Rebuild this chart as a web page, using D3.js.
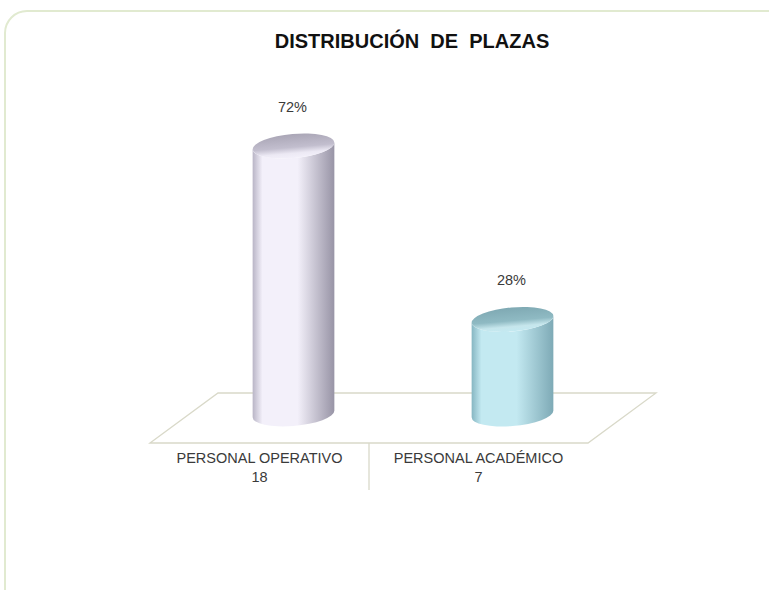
<!DOCTYPE html>
<html>
<head>
<meta charset="utf-8">
<script src="https://cdn.jsdelivr.net/npm/d3@7"></script>
<style>
  html, body { margin: 0; padding: 0; background: #fff; }
  text { font-family: Arial, "Liberation Sans", sans-serif; fill: #3a3a3a; }
</style>
</head>
<body>
<div id="chart"></div>
<script>
// data
var categories = ["PERSONAL OPERATIVO", "PERSONAL ACADÉMICO"];
var values = [18, 7];
var title = "DISTRIBUCIÓN  DE  PLAZAS";

var svgWidth = 769;
var svgHeight = 590;

var svg = d3.select("#chart")
  .append("svg")
  .attr("width", svgWidth)
  .attr("height", svgHeight);

// outer frame
svg.append("rect")
  .attr("x", 5).attr("y", 11)
  .attr("width", 800).attr("height", 620)
  .attr("rx", 22)
  .attr("fill", "none")
  .attr("stroke", "#e1ead0")
  .attr("stroke-width", 2);

svg.append("text")
  .attr("x", 412).attr("y", 48)
  .attr("text-anchor", "middle")
  .style("font-size", "20px")
  .style("font-weight", "bold")
  .style("white-space", "pre")
  .style("fill", "#111")
  .text(title);

// floor geometry (front edge + depth shift)
var floorFront = 443, floorBack = 393, depth = 68;
var x = d3.scaleBand()
  .domain(categories)
  .range([150, 588]);

var y = d3.scaleLinear()
  .domain([1, 18])
  .range([414, 146]);

var total = d3.sum(values);
var pct = d3.format(".0%");

// gradients
var defs = svg.append("defs");
var palettes = [
  { edgeL: "#b9b5c6", mid: "#f3f0fa", edgeR: "#9894a6", cap: "#c2bece", capRim: "#ece9f4", shade: "#aaa6b6" },
  { edgeL: "#86b6c2", mid: "#c3e9f1", edgeR: "#7eaab6", cap: "#8fbac3", capRim: "#c6e6ec", shade: "#7fa9b3" }
];
palettes.forEach(function(p, i) {
  var g = defs.append("linearGradient").attr("id", "body" + i)
    .attr("x1", 0).attr("x2", 1).attr("y1", 0).attr("y2", 0);
  g.append("stop").attr("offset", "0%").attr("stop-color", p.edgeL);
  g.append("stop").attr("offset", "12%").attr("stop-color", p.mid);
  g.append("stop").attr("offset", "55%").attr("stop-color", p.mid);
  g.append("stop").attr("offset", "100%").attr("stop-color", p.edgeR);

  var c = defs.append("linearGradient").attr("id", "cap" + i)
    .attr("x1", 0).attr("x2", 0).attr("y1", 0).attr("y2", 1);
  c.append("stop").attr("offset", "0%").attr("stop-color", p.shade);
  c.append("stop").attr("offset", "55%").attr("stop-color", p.cap);
  c.append("stop").attr("offset", "80%").attr("stop-color", p.capRim);
  c.append("stop").attr("offset", "100%").attr("stop-color", p.mid);
});

// floor
var x0 = x.range()[0], x1 = x.range()[1];
svg.append("path")
  .attr("d", "M" + x0 + "," + floorFront +
             "L" + (x0 + depth) + "," + floorBack +
             "L" + (x1 + depth) + "," + floorBack +
             "L" + x1 + "," + floorFront + "Z")
  .attr("fill", "#fff")
  .attr("stroke", "#d9d9c9")
  .attr("stroke-width", 1.3);

// divider between categories
svg.append("line")
  .attr("x1", x(categories[1])).attr("x2", x(categories[1]))
  .attr("y1", floorFront).attr("y2", 490)
  .attr("stroke", "#d9d9c9")
  .attr("stroke-width", 1.3);

// cylinders: tilted ellipses, sides touch the ellipse tangents
var rx = 41, ry = 12, tilt = -5;
var th = tilt * Math.PI / 180;
var tt = Math.atan(-(ry / rx) * Math.tan(th));
var tdx = rx * Math.cos(tt) * Math.cos(th) - ry * Math.sin(tt) * Math.sin(th);
var tdy = rx * Math.cos(tt) * Math.sin(th) + ry * Math.sin(tt) * Math.cos(th);

var bars = svg.selectAll(".bar")
  .data(values)
  .enter()
  .append("g")
  .attr("class", "bar");

bars.each(function(v, i) {
  var g = d3.select(this);
  var cx = x(categories[i]) + x.bandwidth() / 2 + depth / 2;
  var top = y(v), base = y.range()[0];
  var lx = cx - Math.abs(tdx), rxp = cx + Math.abs(tdx);
  var ldy = tdx > 0 ? -tdy : tdy, rdy = -ldy;
  var d = "M" + lx + "," + (top + ldy) +
          "L" + lx + "," + (base + ldy) +
          "A" + rx + "," + ry + " " + tilt + " 0 0 " + rxp + "," + (base + rdy) +
          "L" + rxp + "," + (top + rdy) +
          "A" + rx + "," + ry + " " + tilt + " 0 1 " + lx + "," + (top + ldy) + "Z";
  g.append("path")
    .attr("d", d)
    .attr("fill", "url(#body" + i + ")");
  g.append("ellipse")
    .attr("cx", cx).attr("cy", top)
    .attr("rx", rx).attr("ry", ry)
    .attr("transform", "rotate(" + tilt + "," + cx + "," + top + ")")
    .attr("fill", "url(#cap" + i + ")");

  g.append("text")
    .attr("x", cx - 1).attr("y", top - 34)
    .attr("text-anchor", "middle")
    .style("font-size", "14.5px")
    .text(pct(v / total));
});

// category labels
var labels = svg.selectAll(".cat")
  .data(categories)
  .enter()
  .append("text")
  .attr("class", "cat")
  .attr("text-anchor", "middle")
  .attr("x", d => x(d) + x.bandwidth() / 2)
  .attr("y", 463)
  .style("font-size", "14.5px");
labels.append("tspan").text(d => d);
labels.append("tspan")
  .attr("x", d => x(d) + x.bandwidth() / 2)
  .attr("dy", 19)
  .text((d, i) => values[i]);
</script>
</body>
</html>
